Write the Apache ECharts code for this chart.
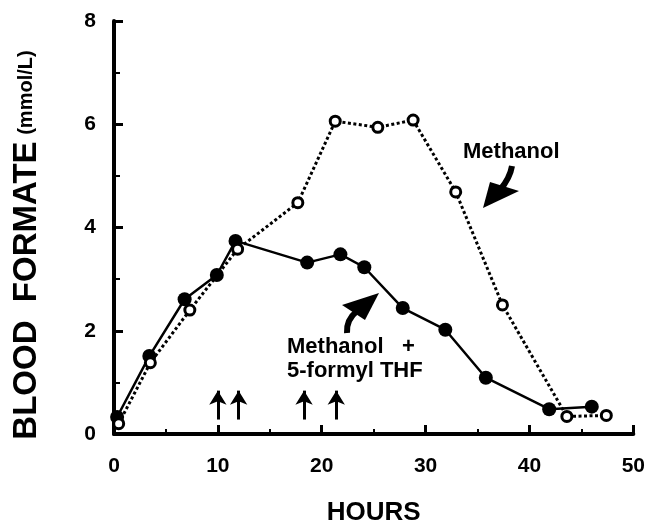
<!DOCTYPE html>
<html>
<head>
<meta charset="utf-8">
<script src="https://cdn.jsdelivr.net/npm/echarts@6/dist/echarts.min.js"></script>
<style>
  html, body { margin: 0; padding: 0; background: #fff; }
  #chart { width: 648px; height: 531px; }
</style>
</head>
<body>
<div id="chart"></div>
<script>
// Methanol + 5-formyl THF (filled circles, solid line)
const hoursThf = [0.3, 3.4, 6.8, 9.9, 11.7, 18.6, 21.8, 24.1, 27.8, 31.9, 35.8, 41.9, 46.0];
const formateThf = [0.33, 1.51, 2.61, 3.08, 3.74, 3.32, 3.48, 3.23, 2.44, 2.02, 1.09, 0.48, 0.53];

// Methanol alone (open circles, dotted line)
const hoursMeth = [0.45, 3.5, 7.3, 11.9, 17.7, 21.3, 25.4, 28.8, 32.9, 37.4, 43.6, 47.4];
const formateMeth = [0.2, 1.38, 2.4, 3.58, 4.48, 6.06, 5.94, 6.08, 4.69, 2.5, 0.34, 0.36];

// dosing times (up arrows)
const doseHours = [10, 12, 18.3, 21.4];

const xMin = 0, xMax = 50, xStep = 10;
const yMin = 0, yMax = 8, yStep = 2;

const font = 'Liberation Sans, Arial, Helvetica, sans-serif';

const zip = (xs, ys) => xs.map((x, i) => [x, ys[i]]);

const myChart = echarts.init(document.getElementById('chart'));

const option = {
  backgroundColor: '#fff',
  animation: false,
  grid: {
    left: 114,
    right: 12,
    top: 21,
    bottom: 90,
  },
  xAxis: {
    type: 'value',
    min: xMin,
    max: xMax,
    interval: xStep,
    name: 'HOURS',
    nameLocation: 'middle',
    nameGap: 66,
    nameTextStyle: {
      color: '#000',
      fontFamily: font,
      fontWeight: 'bold',
      fontSize: 26,
    },
    axisLine: {
      lineStyle: { color: '#000', width: 4 },
    },
    axisTick: {
      inside: true,
      length: 9,
      lineStyle: { color: '#000', width: 3 },
    },
    minorTick: {
      show: true,
      splitNumber: 2,
      length: 5,
      lineStyle: { color: '#000', width: 2 },
    },
    axisLabel: {
      color: '#000',
      fontFamily: font,
      fontWeight: 'bold',
      fontSize: 21,
      margin: 22,
    },
    splitLine: { show: false },
  },
  yAxis: {
    type: 'value',
    min: yMin,
    max: yMax,
    interval: yStep,
    name: '{big|BLOOD  FORMATE}  {small|(mmol/L)}',
    nameLocation: 'middle',
    nameRotate: 90,
    nameGap: 71,
    nameTextStyle: {
      color: '#000',
      fontFamily: font,
      fontWeight: 'bold',
      padding: [0, 35, 0, 0],
      rich: {
        big: { fontSize: 33, fontWeight: 'bold', fontFamily: font, color: '#000' },
        small: { fontSize: 20, fontWeight: 'bold', fontFamily: font, color: '#000' },
      },
    },
    axisLine: {
      show: true,
      lineStyle: { color: '#000', width: 4 },
    },
    axisTick: {
      show: true,
      inside: true,
      length: 9,
      lineStyle: { color: '#000', width: 3 },
    },
    minorTick: {
      show: true,
      splitNumber: 2,
      length: 6,
      lineStyle: { color: '#000', width: 2 },
    },
    axisLabel: {
      color: '#000',
      fontFamily: font,
      fontWeight: 'bold',
      fontSize: 21,
      margin: 18,
    },
    splitLine: { show: false },
  },
  series: [
    {
      name: 'Doses',
      type: 'line',
      data: [],
      silent: true,
      markLine: {
        silent: true,
        symbol: ['none', 'arrow'],
        symbolSize: [13, 14],
        label: { show: false },
        lineStyle: { color: '#000', width: 3, type: 'solid' },
        data: doseHours.map((h) => [
          { coord: [h, 0.28] },
          { coord: [h, 0.84] },
        ]),
      },
    },
    {
      name: 'Methanol + 5-formyl THF',
      type: 'line',
      data: zip(hoursThf, formateThf),
      symbol: 'circle',
      symbolSize: 14,
      lineStyle: { color: '#000', width: 2.5 },
      itemStyle: { color: '#000', borderColor: '#000', borderWidth: 0 },
      z: 3,
    },
    {
      name: 'Methanol',
      type: 'line',
      data: zip(hoursMeth, formateMeth),
      symbol: 'circle',
      symbolSize: 10,
      lineStyle: { color: '#000', width: 3, type: [3, 2.5] },
      itemStyle: { color: '#fff', borderColor: '#000', borderWidth: 3 },
      z: 4,
    },
  ],
  graphic: [
    {
      type: 'text',
      left: 463,
      top: 141,
      style: {
        text: 'Methanol',
        font: 'bold 22px ' + font,
        fill: '#000',
      },
    },
    {
      type: 'bezierCurve',
      shape: { x1: 512, y1: 166, cpx1: 510, cpy1: 178, x2: 500, y2: 190 },
      style: { stroke: '#000', lineWidth: 6, fill: 'none' },
    },
    {
      type: 'polygon',
      shape: { points: [[483, 208], [490, 182], [519, 191]] },
      style: { fill: '#000' },
    },
    {
      type: 'text',
      left: 287,
      top: 335,
      style: {
        text: 'Methanol   +\n5-formyl THF',
        font: 'bold 22px ' + font,
        lineHeight: 24,
        fill: '#000',
      },
    },
    {
      type: 'bezierCurve',
      shape: { x1: 347, y1: 333, cpx1: 346, cpy1: 320, x2: 357, y2: 311 },
      style: { stroke: '#000', lineWidth: 6, fill: 'none' },
    },
    {
      type: 'polygon',
      shape: { points: [[379, 293], [342, 305], [365, 320]] },
      style: { fill: '#000' },
    },
  ],
};

myChart.setOption(option);
</script>
</body>
</html>
